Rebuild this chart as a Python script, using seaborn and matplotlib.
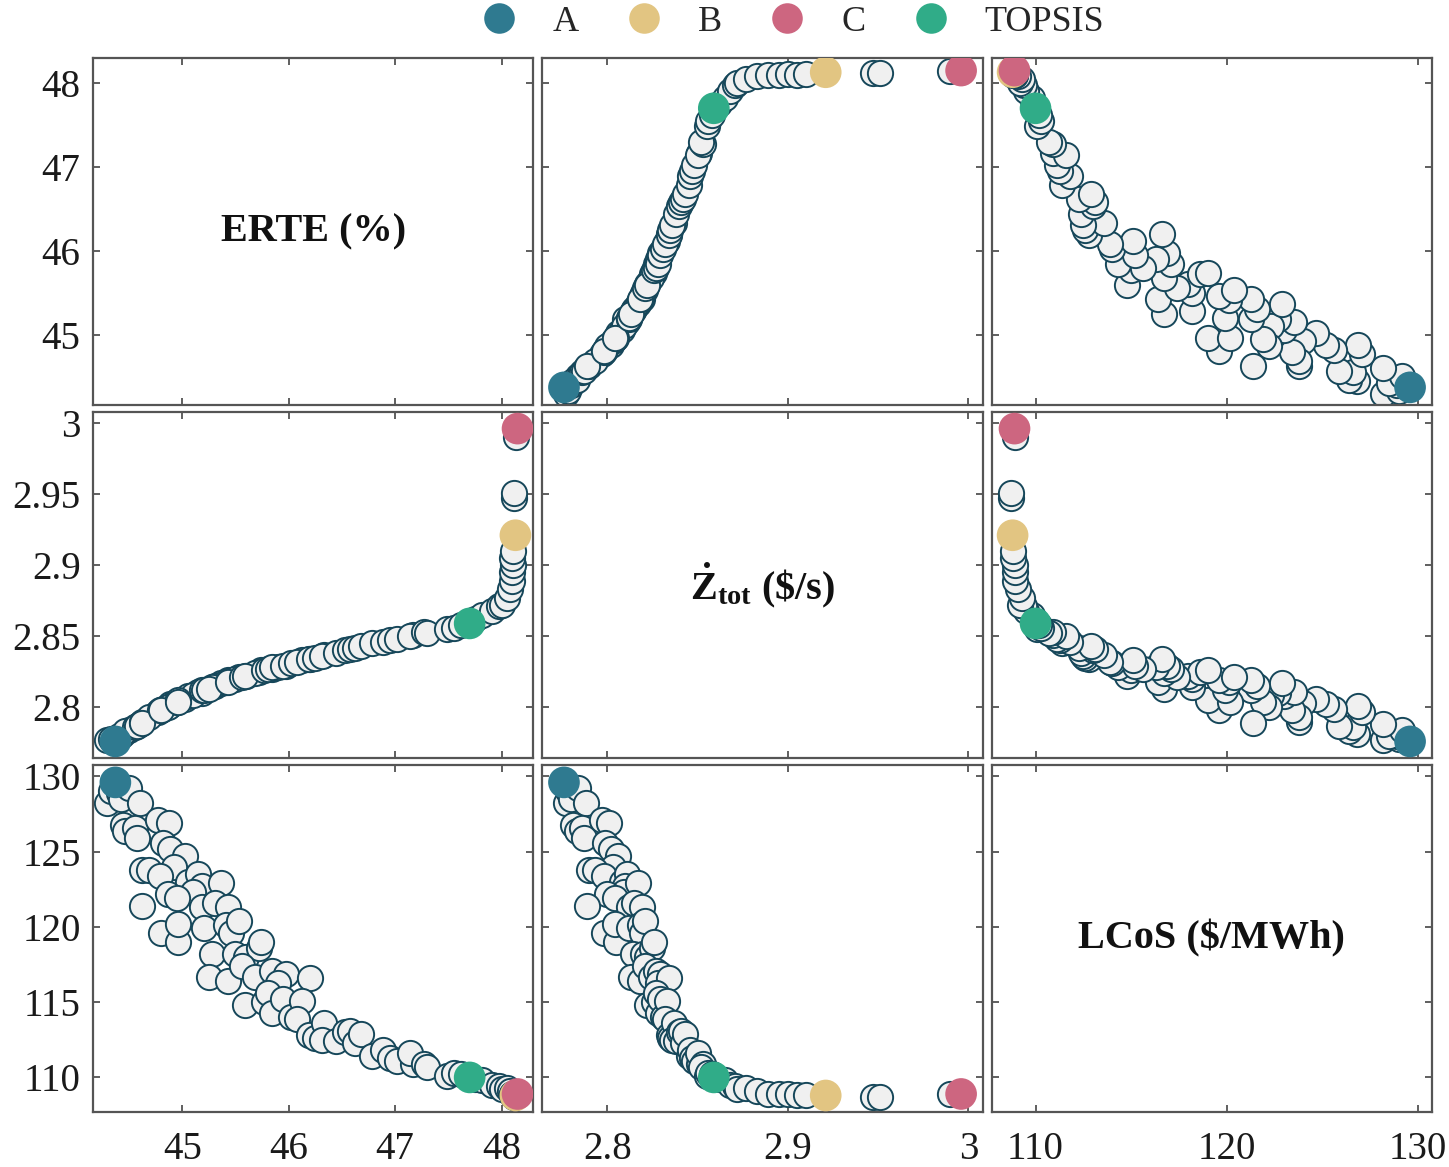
import matplotlib
matplotlib.use("Agg")
import matplotlib.pyplot as plt
from matplotlib.lines import Line2D
import pandas as pd
import seaborn as sns

# Pareto front solutions (ERTE %, Z_tot $/s, LCoS $/MWh)
erte = [44.29, 44.33, 44.40, 44.42, 44.50, 44.60, 44.44, 44.46, 44.55, 44.57,
        44.77, 44.87, 44.82, 44.88, 45.02, 44.92, 44.62, 44.69, 44.79, 45.05,
        45.15, 45.18, 45.10, 45.36, 44.86, 44.95, 45.18, 45.31, 45.43, 44.62,
        44.80, 44.96, 44.96, 45.20, 45.41, 45.46, 45.53, 45.28, 45.49, 45.60,
        45.72, 45.74, 45.25, 45.43, 45.56, 45.68, 45.84, 45.97, 45.90, 46.20,
        45.59, 45.77, 45.80, 45.84, 45.95, 46.02, 46.12, 46.08, 46.19, 46.25,
        46.33, 46.31, 46.44, 46.53, 46.58, 46.62, 46.68, 46.78, 46.89, 46.95,
        47.02, 47.17, 47.14, 47.27, 47.30, 47.49, 47.55, 47.62, 47.75, 47.82,
        47.91, 47.98, 48.00, 48.05, 48.08, 48.10, 48.10, 48.11, 48.10, 48.11,
        48.12, 48.12, 48.14]
ztot = [2.777, 2.778, 2.780, 2.780, 2.784, 2.788, 2.781, 2.783, 2.786, 2.787,
        2.797, 2.801, 2.799, 2.802, 2.806, 2.803, 2.790, 2.793, 2.798, 2.808,
        2.811, 2.810, 2.809, 2.817, 2.800, 2.804, 2.812, 2.815, 2.819, 2.789,
        2.798, 2.805, 2.804, 2.812, 2.818, 2.819, 2.821, 2.814, 2.820, 2.822,
        2.825, 2.826, 2.813, 2.818, 2.821, 2.824, 2.827, 2.829, 2.828, 2.834,
        2.822, 2.826, 2.827, 2.828, 2.829, 2.831, 2.833, 2.832, 2.834, 2.835,
        2.837, 2.836, 2.838, 2.840, 2.841, 2.842, 2.843, 2.845, 2.846, 2.847,
        2.848, 2.851, 2.850, 2.853, 2.852, 2.855, 2.856, 2.858, 2.862, 2.865,
        2.868, 2.871, 2.872, 2.877, 2.883, 2.889, 2.895, 2.900, 2.905, 2.910,
        2.947, 2.951, 2.990]
lcos = [128.2, 129.0, 128.9, 128.5, 129.2, 128.2, 126.8, 126.4, 126.6, 125.9,
        127.1, 126.9, 125.6, 125.2, 124.7, 124.0, 123.8, 123.8, 123.4, 123.0,
        123.5, 122.7, 122.3, 122.9, 122.2, 121.9, 121.3, 121.6, 121.3, 121.4,
        119.6, 119.0, 120.2, 119.9, 120.1, 119.6, 120.4, 118.2, 118.2, 118.0,
        118.6, 119.0, 116.7, 116.4, 117.4, 116.7, 117.1, 116.9, 116.3, 116.6,
        114.8, 115.0, 115.6, 114.3, 115.2, 114.0, 115.1, 113.9, 112.8, 112.6,
        113.6, 112.5, 112.4, 113.0, 113.1, 112.3, 112.9, 111.4, 111.8, 111.3,
        111.1, 110.9, 111.6, 110.9, 110.7, 110.1, 110.3, 110.2, 109.9, 109.8,
        109.5, 109.4, 109.2, 109.3, 109.1, 108.9, 108.9, 108.9, 108.8, 108.8,
        108.7, 108.7, 108.9]

# highlighted solutions
sel_names = ["A", "B", "C", "TOPSIS"]
sel_erte = [44.37, 48.13, 48.15, 47.70]
sel_ztot = [2.776, 2.921, 2.996, 2.859]
sel_lcos = [129.6, 108.8, 108.9, 110.0]
sel_colors = ["#2f7a90", "#e2c582", "#cd6680", "#30ac88"]

cols = ["ERTE", "Ztot", "LCoS"]
labels = ["ERTE (%)", r"$\mathbf{\dot{Z}_{tot}}$ (\$/s)", "LCoS ($/MWh)"]
limits = {"ERTE": (44.16, 48.30), "Ztot": (2.764, 3.008), "LCoS": (107.7, 130.75)}
xticks = {"ERTE": [45, 46, 47, 48], "Ztot": [2.8, 2.9, 3.0], "LCoS": [110, 120, 130]}
yticks = {"ERTE": [45, 46, 47, 48], "Ztot": [2.8, 2.85, 2.9, 2.95, 3.0], "LCoS": [110, 115, 120, 125, 130]}

df = pd.DataFrame({"ERTE": erte, "Ztot": ztot, "LCoS": lcos})
sel = pd.DataFrame({"ERTE": sel_erte, "Ztot": sel_ztot, "LCoS": sel_lcos, "name": sel_names})

sns.set_style("white")
plt.rcParams["font.family"] = ["Liberation Serif", "DejaVu Serif"]
plt.rcParams["mathtext.fontset"] = "custom"
plt.rcParams["mathtext.rm"] = "Liberation Serif"
plt.rcParams["mathtext.bf"] = "Liberation Serif:bold"
plt.rcParams["mathtext.it"] = "Liberation Serif:italic"

fig, axes = plt.subplots(3, 3, figsize=(14.49, 11.67), dpi=100, sharex="col", sharey="row")
fig.subplots_adjust(left=0.0642, right=0.9883, top=0.9503, bottom=0.0471, wspace=0.02, hspace=0.019)

def fmt(v):
    return f"{v:g}"

for i, yc in enumerate(cols):
    for j, xc in enumerate(cols):
        ax = axes[i, j]
        if i == j:
            ax.text(0.5, 0.5, labels[i], transform=ax.transAxes, ha="center", va="center",
                    fontsize=29, fontweight="bold", color="#111111")
        else:
            sns.scatterplot(data=df, x=xc, y=yc, ax=ax, s=330, color="#f0f0f0",
                            edgecolor="#16475a", linewidth=1.4, legend=False, zorder=2)
            sns.scatterplot(data=sel, x=xc, y=yc, hue="name", hue_order=sel_names,
                            palette=sel_colors, ax=ax, s=520, edgecolor="none",
                            linewidth=0, legend=False, zorder=3)
        ax.set_xlabel("")
        ax.set_ylabel("")
        ax.set_xlim(limits[xc])
        ax.set_ylim(limits[yc])
        ax.set_xticks(xticks[xc])
        ax.set_yticks(yticks[yc])
        ax.set_xticklabels([fmt(v) for v in xticks[xc]])
        ax.set_yticklabels([fmt(v) for v in yticks[yc]])
        ax.tick_params(direction="in", length=5, width=1.2, color="#444444",
                       top=True, right=True, bottom=True, left=True,
                       labelsize=28, labelcolor="#1a1a1a")
        ax.tick_params(axis="x", pad=14)
        ax.tick_params(axis="y", pad=9)
        for sp in ax.spines.values():
            sp.set_visible(True)
            sp.set_color("#555555")
            sp.set_linewidth(1.6)

handles = [Line2D([], [], marker="o", linestyle="", markersize=22, markerfacecolor=c,
                  markeredgecolor="none") for c in sel_colors]
fig.legend(handles, sel_names, loc="center", bbox_to_anchor=(0.547, 0.981), ncol=4,
           frameon=False, fontsize=26, handlelength=1.0, handletextpad=1.0,
           columnspacing=1.3, borderaxespad=0)

fig.savefig("out.png", dpi=100)
